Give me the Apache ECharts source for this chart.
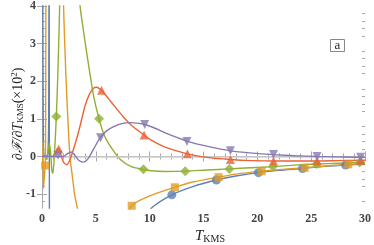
<!DOCTYPE html>
<html><head><meta charset="utf-8">
<script src="https://cdn.jsdelivr.net/npm/echarts@6/dist/echarts.min.js"></script>
<style>html,body{margin:0;padding:0;background:#fff}#c{width:374px;height:245px}</style>
</head><body><div id="c"></div>
<script>
// ---- data ----
const xTicks = [0, 5, 10, 15, 20, 25, 30];
const yTicks = [-1, 0, 1, 2, 3, 4];
const yMinorTicks = [-1.2,-0.8,-0.6,-0.4,-0.2,0.2,0.4,0.6,0.8,1.2,1.4,1.6,1.8,2.2,2.4,2.6,2.8,3.2,3.4,3.6,3.8];

const blueCurve = [[0.06,6],[0.1,2],[0.13,0.3],[0.2,0.02],[0.4,0],[0.55,0.1],[0.62,1],[0.66,6],[0.7,-6],[0.75,-20],[1,-15],[3,-6],[6,-3],[8.5,-1.95],[10.17,-1.37],[12.06,-1.02],[14,-0.8],[16.2,-0.625],[18,-0.52],[20.1,-0.43],[22,-0.37],[24.2,-0.32],[26,-0.27],[28.2,-0.23],[30,-0.2]];
const blueMarks = [[12.06,-1.02],[16.2,-0.625],[20.1,-0.43],[24.2,-0.32],[28.2,-0.23]];

const orangeCurve = [[0.05,-0.3],[0.1,0.4],[0.13,-0.85],[0.2,-0.6],[0.3,-0.24],[0.34,1],[0.37,6],[0.45,20],[1.5,20],[1.9,6],[1.99,4.1],[2.2,2.3],[2.4,1.0],[2.6,0],[2.85,-0.6],[3.05,-1.05],[3.3,-1.4],[3.6,-2],[5,-4],[7,-2.2],[8.33,-1.31],[10,-1.05],[12.34,-0.82],[14,-0.68],[16.4,-0.55],[18,-0.47],[20.4,-0.39],[22,-0.35],[24.4,-0.3],[26,-0.26],[28.45,-0.21],[30,-0.19]];
const orangeMarks = [[0.3,-0.24],[8.33,-1.31],[12.34,-0.82],[16.4,-0.55],[20.4,-0.39],[24.4,-0.3],[28.45,-0.21]];

const greenCurve = [[0,0],[0.3,0],[0.45,-0.08],[0.55,0.1],[0.68,0.35],[0.8,0.1],[0.92,-0.38],[1.0,-0.45],[1.1,-0.2],[1.22,0.4],[1.33,1.06],[1.45,2.0],[1.55,3.0],[1.64,4.0],[1.75,5.5],[2.0,9],[3.0,9],[3.3,5.5],[3.48,4.15],[3.88,3.28],[4.35,2.39],[4.8,1.6],[5.3,1.0],[5.8,0.55],[6.37,0.26],[7.3,-0.09],[8.3,-0.27],[9.33,-0.34],[10.1,-0.38],[11.5,-0.4],[13.3,-0.39],[15.3,-0.36],[17.4,-0.33],[19.4,-0.3],[21.45,-0.27],[23.5,-0.23],[25.5,-0.2],[27.5,-0.18],[29.5,-0.16],[30,-0.16]];
const greenMarks = [[1.33,1.06],[5.3,1.0],[9.42,-0.34],[13.3,-0.39],[17.4,-0.33],[21.45,-0.27],[25.5,-0.2],[29.5,-0.16]];

const redCurve = [[0,0],[1.1,0],[1.25,0.05],[1.4,0.2],[1.55,0.2],[1.75,0.05],[2.0,-0.15],[2.3,-0.22],[2.55,-0.12],[2.8,0.08],[3.2,0.45],[3.57,0.85],[4.0,1.35],[4.4,1.65],[4.8,1.82],[5.1,1.84],[5.5,1.76],[6.0,1.6],[6.7,1.35],[7.5,1.07],[8.3,0.83],[9.48,0.57],[10.1,0.44],[11.5,0.24],[13.5,0.07],[15.5,-0.03],[17.5,-0.08],[19.5,-0.11],[21.5,-0.12],[23.5,-0.12],[25.55,-0.12],[27.5,-0.11],[29.6,-0.1],[30,-0.1]];
const redMarks = [[1.55,0.2],[5.53,1.76],[9.48,0.57],[13.5,0.07],[17.5,-0.08],[21.5,-0.12],[25.55,-0.12],[29.6,-0.1]];

const purpleCurve = [[0,0],[2.0,0],[2.3,0.06],[2.7,0.12],[3.0,0.05],[3.4,-0.1],[3.85,-0.15],[4.3,-0.05],[4.8,0.2],[5.4,0.5],[6.0,0.68],[6.7,0.8],[7.5,0.88],[8.2,0.9],[9.0,0.88],[9.54,0.85],[10.5,0.75],[11.5,0.62],[13.46,0.41],[15.5,0.26],[17.5,0.15],[19.5,0.09],[21.5,0.05],[23.5,0.02],[25.55,0.0],[27.5,-0.01],[29.6,-0.02],[30,-0.02]];
const purpleMarks = [[1.49,0.03],[5.44,0.5],[9.54,0.85],[13.46,0.4],[17.5,0.15],[21.5,0.05],[25.55,0.0],[29.6,-0.02]];

// ---- chart ----
const C = {blue:'#5E81B5', orange:'#E19C24', green:'#8FB032', red:'#EB6235', purple:'#8778B3'};
const serif = 'Liberation Serif';
const frame = '#a8a8a8';
const chart = echarts.init(document.getElementById('c'), null, {renderer:'canvas'});
const grid = {left:42, right:9, top:6, bottom:37};
function lineS(data, color, z){return {type:'line', data, showSymbol:false, smooth:0.25, lineStyle:{color, width:1.4}, itemStyle:{color}, z, silent:true, animation:false};}
function markS(data, color, symbol, size, rot, z){return {type:'scatter', data, symbol, symbolSize:size, symbolRotate:rot||0, itemStyle:{color}, z, silent:true, animation:false};}
const yRange = {min:-1.37, max:4.0};
const baseAxisY = (pos, show, vals, len) => ({type:'value', position:pos, ...yRange, gridIndex:0,
  axisLine:{show:true, lineStyle:{color:frame, width:1}}, splitLine:{show:false},
  axisTick:{show:true, inside:true, length:len, lineStyle:{color:frame}, customValues:vals},
  axisLabel:{show:show, customValues:vals, color:'#444', fontFamily:serif, fontSize:12, fontWeight:'bold', margin:6}});
const baseAxisX = (pos, show) => ({type:'value', position:pos, min:0, max:30, interval:5,
  axisLine:{show:true, lineStyle:{color:frame, width:1}}, splitLine:{show:false},
  axisTick:{show:true, inside:true, length:5, lineStyle:{color:frame}},
  minorTick:{show:true, splitNumber:5, length:3, lineStyle:{color:frame}},
  axisLabel:{show:show, color:'#444', fontFamily:serif, fontSize:12, fontWeight:'bold', margin:5}});
chart.setOption({
  animation:false,
  grid,
  xAxis:[baseAxisX('bottom', true), baseAxisX('top', false)],
  yAxis:[baseAxisY('left', true, yTicks, 5), baseAxisY('right', false, yTicks, 5),
         {...baseAxisY('left', false, yMinorTicks, 3), axisLine:{show:false}},
         {...baseAxisY('right', false, yMinorTicks, 3), axisLine:{show:false}}],
  series:[
    {type:'line', data:[], markLine:{silent:true, symbol:'none', label:{show:false}, lineStyle:{color:'#cfcfcf', width:1.5, type:'solid'}, data:[{yAxis:0}]}, z:1},
    lineS(blueCurve, C.blue, 2), lineS(orangeCurve, C.orange, 3), lineS(greenCurve, C.green, 4), lineS(redCurve, C.red, 5), lineS(purpleCurve, C.purple, 6),
    markS(blueMarks, C.blue, 'circle', 9, 0, 7), markS(orangeMarks, C.orange, 'rect', 8, 0, 7), markS(greenMarks, C.green, 'diamond', 10, 0, 7),
    markS(redMarks, C.red, 'triangle', 9, 0, 7), markS(purpleMarks, C.purple, 'triangle', 9, 180, 7)
  ],
  graphic:[
    {type:'group', left:330, top:39, children:[
      {type:'rect', shape:{x:0,y:0,width:14,height:12}, style:{fill:'#fff', stroke:'#888', lineWidth:1}},
      {type:'text', x:7, y:6, style:{text:'a', font:'13px "Liberation Serif"', fill:'#222', align:'center', verticalAlign:'middle'}}
    ]},
    {type:'text', x:210, y:236, style:{text:'{i|T}{s|KMS}', align:'center', verticalAlign:'middle',
      rich:{i:{fontFamily:serif, fontStyle:'italic', fontSize:15, fill:'#222'}, s:{fontFamily:serif, fontSize:10, fill:'#222', padding:[6,0,0,0]}}}},
    {type:'text', x:18, y:114, rotation:Math.PI/2, style:{text:'{i|∂ℱ/∂T}{s|KMS}{n|(×10}{p|2}{n|)}', align:'center', verticalAlign:'middle',
      rich:{i:{fontFamily:serif, fontStyle:'italic', fontSize:14, fill:'#222'}, s:{fontFamily:serif, fontSize:9, fill:'#222', padding:[6,0,0,0]},
            n:{fontFamily:serif, fontSize:14, fill:'#222'}, p:{fontFamily:serif, fontSize:9, fill:'#222', padding:[0,0,7,0]}}}}
  ]
});
</script></body></html>
